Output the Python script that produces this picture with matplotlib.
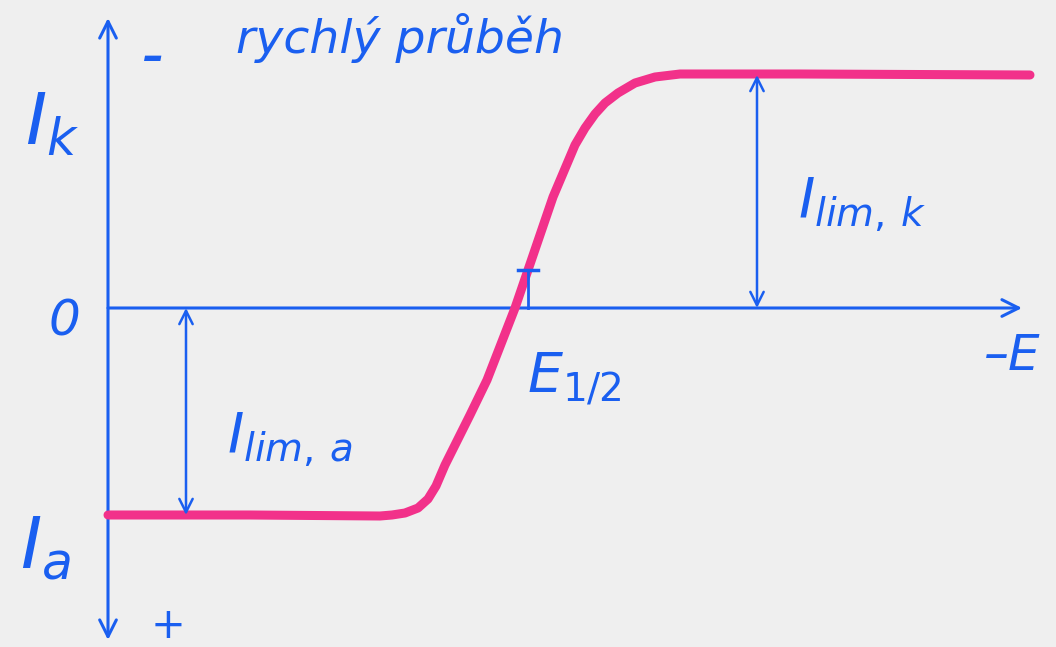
import matplotlib.pyplot as plt

# hand sketch of a fast (reversible) polarographic wave
# coordinates: E -> pixels right of origin frame, I -> pixels above the zero line
CURVE_E = [108, 250, 380, 392, 405, 418, 428, 436, 445, 470, 487, 515, 553,
           575, 585, 595, 605, 618, 635, 655, 680, 800, 1030]
CURVE_I = [-207, -207, -208, -207, -205, -200, -191, -178, -157, -107, -72, 0,
           111, 163, 180, 194, 205, 215, 225, 231, 234, 234, 233]
I_LIM_K = 233
I_LIM_A = -207
E_HALF = 528
E_LIM_A = 186
E_LIM_K = 757

BLUE = "#1a5ff0"
PINK = "#f2318a"
BG = "#efefef"

plt.rcParams["mathtext.fontset"] = "dejavusans"

fig = plt.figure(figsize=(10.56, 6.47), dpi=100)
fig.patch.set_facecolor(BG)
ax = fig.add_axes([0, 0, 1, 1])
ax.set_facecolor(BG)
ax.set_xlim(0, 1056)
ax.set_ylim(-339, 308)
ax.axis("off")

arrow = dict(arrowstyle="->", color=BLUE, lw=2.2, mutation_scale=30,
             shrinkA=0, shrinkB=0)
both = dict(arrow, arrowstyle="<->", mutation_scale=24, lw=1.8)

# axes
ax.annotate("", xy=(108, 290), xytext=(108, -332), arrowprops=dict(arrow, arrowstyle="<->"))
ax.annotate("", xy=(1022, 0), xytext=(108, 0), arrowprops=arrow)

# curve
ax.plot(CURVE_E, CURVE_I, color=PINK, lw=6.5, solid_capstyle="round",
        solid_joinstyle="round", zorder=3)

# limiting currents
ax.annotate("", xy=(E_LIM_A, I_LIM_A), xytext=(E_LIM_A, 0), arrowprops=both)
ax.annotate("", xy=(E_LIM_K, I_LIM_K), xytext=(E_LIM_K, 0), arrowprops=both)

# half-wave marker
ax.plot([E_HALF, E_HALF], [0, 38], color=BLUE, lw=2, zorder=4)
ax.plot([E_HALF - 10, E_HALF + 10], [38, 38], color=BLUE, lw=2.5, zorder=4)

txt = dict(color=BLUE, fontstyle="italic", ha="center", va="center")
ax.text(400, 270, "rychlý průběh", fontsize=34, **txt)
ax.text(153, 250, "–", fontsize=30, fontweight="bold", **txt)
ax.text(52, 183, r"$I_k$", fontsize=52, **txt)
ax.text(64, -14, "0", fontsize=36, **txt)
ax.text(45, -240, r"$I_a$", fontsize=52, **txt)
ax.text(168, -318, "+", fontsize=30, **txt)
ax.text(862, 103, r"$I_{lim,\,k}$", fontsize=40, **txt)
ax.text(290, -132, r"$I_{lim,\,a}$", fontsize=40, **txt)
ax.text(574, -70, r"$E_{1/2}$", fontsize=40, **txt)
ax.text(1012, -48, "–E", fontsize=36, **txt)

fig.savefig("out.png", dpi=100, facecolor=BG)
